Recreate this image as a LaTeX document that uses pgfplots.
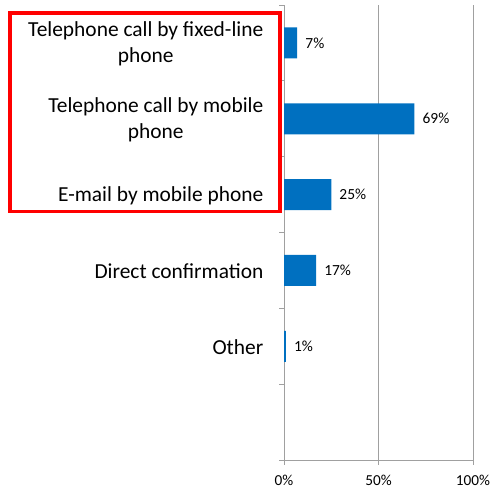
\documentclass[border=0pt]{standalone}
\usepackage{fontspec}
\setmainfont{Carlito}
\usepackage{pgfplots}
\pgfplotsset{compat=1.18}
\definecolor{barblue}{HTML}{0070C0}
\definecolor{axgray}{HTML}{A0A0A0}
\begin{document}
\begin{tikzpicture}
\begin{axis}[
  at={(284bp,29bp)}, anchor=south west,
  scale only axis, width=189bp, height=455bp,
  xbar, bar width=31bp,
  xmin=0, xmax=100,
  ymin=-0.5, ymax=5.5, y dir=reverse,
  axis lines*=left,
  axis line style={axgray, line width=0.8bp},
  xtick={0,50,100}, xticklabels={0\%,50\%,100\%},
  ytick={0,1,2,3,4},
  yticklabels={{Telephone call by fixed-line\\phone},{Telephone call by mobile\\phone},{E-mail by mobile phone},{Direct confirmation},{Other}},
  minor ytick={-0.5,0.5,1.5,2.5,3.5,4.5,5.5},
  tick align=outside,
  major tick length=4.5bp, minor tick length=4.5bp,
  major y tick style={draw=none},
  minor y tick style={axgray, line width=0.8bp},
  major x tick style={axgray, line width=0.8bp},
  xmajorgrids, major x grid style={axgray, line width=0.8bp},
  /pgf/number format/assume math mode=true,
  xticklabel style={font=\fontsize{15.3}{18}\selectfont, inner sep=0pt, yshift=-10bp, text=black},
  yticklabel style={font=\fontsize{21.5}{26}\selectfont, align=center, inner sep=0pt, xshift=-16bp, yshift=-1bp, text=black},
  nodes near coords={\pgfmathprintnumber{\pgfplotspointmeta}\%},
  nodes near coords style={font=\fontsize{15.5}{18}\selectfont, anchor=west, inner sep=0pt, xshift=8bp, text=black},
  clip=false,
]
\addplot[fill=barblue, draw=none] coordinates {(7,0) (69,1) (25,2) (17,3) (1,4)};
\end{axis}
\draw[red, line width=3.3bp] (10bp,277.3bp) rectangle (280bp,476bp);
\pgfresetboundingbox
\path (0,0) rectangle (495bp,489bp);
\end{tikzpicture}
\end{document}
